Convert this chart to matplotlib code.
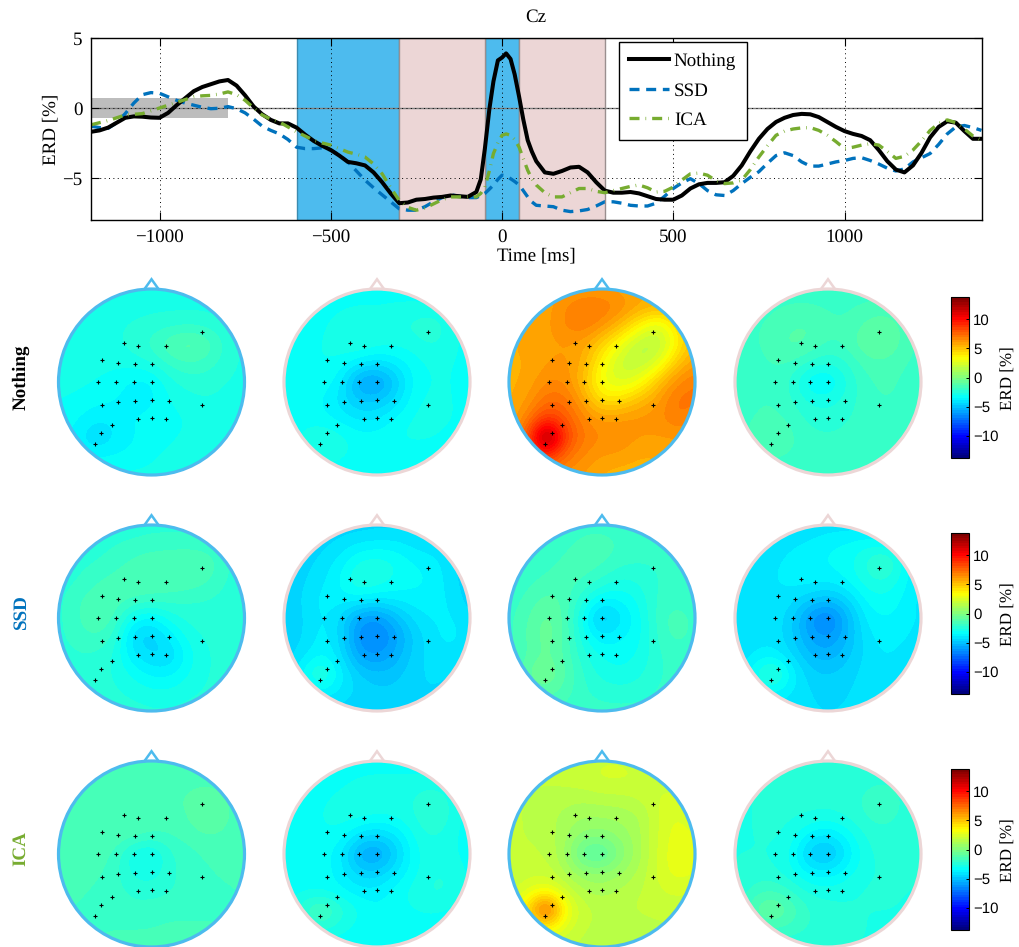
import numpy as np
import matplotlib
matplotlib.use('Agg')
import matplotlib.pyplot as plt
from matplotlib.patches import Circle
from matplotlib.cm import ScalarMappable
from matplotlib.colors import Normalize, LinearSegmentedColormap

plt.rcParams['font.family'] = ['Liberation Serif', 'DejaVu Serif']
plt.rcParams['text.hinting'] = 'no_hinting'
plt.rcParams['text.hinting_factor'] = 1

W, H = 1019, 947

time_ms = [-1200, -1175, -1150, -1125, -1100, -1075, -1050, -1025, -1000, -975, -950, -925, -900, -875, -850,
           -825, -800, -775, -750, -725, -700, -675, -650, -625, -600, -575, -550, -525, -500, -475, -450,
           -425, -400, -375, -350, -325, -300, -275, -250, -225, -200, -175, -150, -125, -100, -75, -62, -50,
           -37, -25, -12, 0, 12, 25, 37, 50, 62, 75, 87, 100, 125, 150, 175, 200, 225, 250, 275, 300, 325,
           350, 375, 400, 425, 450, 475, 500, 525, 550, 575, 600, 625, 650, 675, 700, 725, 750, 775, 800,
           825, 850, 875, 900, 925, 950, 975, 1000, 1025, 1050, 1075, 1100, 1125, 1150, 1175, 1200, 1225,
           1250, 1275, 1300, 1325, 1350, 1375, 1400]
erd_nothing = [-1.7, -1.6, -1.4, -1.05, -0.7, -0.6, -0.62, -0.68, -0.7, -0.35, 0.2, 0.7, 1.2, 1.5, 1.7,
               1.9, 2.0, 1.6, 0.9, 0.1, -0.45, -0.85, -1.1, -1.1, -1.4, -1.9, -2.35, -2.7, -3.0, -3.4, -3.85,
               -3.95, -4.1, -4.6, -5.3, -6.1, -6.8, -6.75, -6.55, -6.5, -6.4, -6.35, -6.25, -6.3, -6.35, -6.0, -5.1, -2.9,
               -0.1, 1.9, 3.4, 3.6, 3.9, 3.5, 2.4, 0.8, -0.8, -2.3, -3.1, -3.8, -4.6, -4.7, -4.5, -4.25, -4.2, -4.6, -5.3, -5.9, -6.05,
               -6.05, -6.0, -6.1, -6.3, -6.5, -6.55, -6.55, -6.25, -5.75, -5.45, -5.35, -5.35, -5.3, -4.85, -4.1, -3.1, -2.2, -1.5, -1.0,
               -0.7, -0.5, -0.42, -0.45, -0.65, -1.0, -1.35, -1.65, -1.85, -2.0, -2.3, -3.0, -3.8, -4.4, -4.6, -4.1, -3.2,
               -2.1, -1.35, -0.95, -1.05, -1.65, -2.2, -2.2]
erd_ssd = [-1.3, -1.4, -1.45, -1.05, -0.4, 0.35, 0.95, 1.1, 1.05, 0.8, 0.55, 0.35, 0.2, 0.05, -0.05,
           -0.02, 0.1, -0.05, -0.35, -0.8, -1.3, -1.6, -1.85, -2.25, -2.8, -2.9, -2.9, -2.85, -3.0, -3.35, -3.85,
           -4.5, -5.15, -5.7, -6.2, -6.7, -7.2, -7.3, -7.3, -7.05, -6.7, -6.4, -6.2, -6.3, -6.4, -6.4, -6.25, -6.1,
           -5.8, -5.5, -5.1, -4.8, -4.85, -5.05, -5.25, -5.5, -5.9, -6.35, -6.7, -6.95, -7.0, -7.05, -7.3, -7.4, -7.35, -7.25, -7.0, -6.7, -6.7,
           -6.8, -6.95, -7.0, -7.0, -6.8, -6.3, -5.75, -5.35, -5.05, -5.4, -5.9, -6.2, -6.25, -5.9, -5.4, -4.95, -4.55, -3.95, -3.4,
           -3.2, -3.4, -3.85, -4.15, -4.15, -4.0, -3.85, -3.75, -3.6, -3.55, -3.75, -4.0, -4.3, -4.5, -4.35, -3.85, -3.55,
           -3.25, -2.6, -1.85, -1.35, -1.25, -1.4, -1.6]
erd_ica = [-1.2, -1.05, -0.9, -0.7, -0.5, -0.45, -0.4, -0.2, 0.0, 0.2, 0.4, 0.6, 0.8, 0.87, 0.9,
           1.0, 1.15, 0.95, 0.55, 0.0, -0.5, -0.8, -1.0, -1.35, -1.7, -2.0, -2.3, -2.5, -2.65, -2.9, -3.15,
           -3.3, -3.5, -4.0, -4.7, -5.7, -6.6, -7.1, -7.3, -7.15, -6.85, -6.55, -6.35, -6.35, -6.35, -6.35, -6.1, -5.65,
           -4.5, -3.25, -2.5, -1.95, -1.85, -1.95, -2.25, -2.8, -3.6, -4.45, -5.05, -5.5, -6.05, -6.35, -6.35, -6.05, -5.75, -5.75, -5.95, -6.05, -5.9,
           -5.75, -5.6, -5.5, -5.7, -6.0, -5.95, -5.65, -5.15, -4.7, -4.65, -4.8, -5.2, -5.4, -5.35, -5.15, -4.4, -3.5, -2.7, -1.95,
           -1.65, -1.5, -1.42, -1.4, -1.6, -1.95, -2.4, -2.9, -2.8, -2.65, -2.55, -2.65, -3.1, -3.6, -3.45, -3.0, -2.35,
           -1.6, -1.1, -0.85, -1.05, -1.5, -2.0, -2.3]

# time windows shaded in the top plot
windows_blue = [(-600, -300), (-50, 50)]
windows_pink = [(-300, -50), (50, 300)]
x_ticks = [-1000, -500, 0, 500, 1000]
y_ticks = [-5, 0, 5]
cbar_ticks = [-10, -5, 0, 5, 10]
row_names = ['Nothing', 'SSD', 'ICA']

electrode_x = [.545, -.294, -.143, .154, -.534, -.358, -.176, .004, -.573, -.380, -.190, .004,
               -.534, -.358, -.176, .004, .186, .545, -.143, .004, .154, -.427, -.538, -.609]
electrode_y = [.541, .416, .391, .391, .240, .208, .194, .190, -.004, -.004, -.004, -.004,
               -.244, -.215, -.201, -.194, -.201, -.244, -.394, -.387, -.394, -.466, -.545, -.663]

# ERD on an 11x11 lattice, top row first
map_nothing_1 = [
    [-2.8, -2.8, -2.8, -2.8, -2.8, -2.8, -2.8, -2.8, -2.8, -2.8, -2.8],
    [-2.8, -2.8, -2.8, -2.8, -2.8, -2.7, -2.7, -2.7, -2.7, -2.8, -2.8],
    [-2.8, -2.8, -2.8, -2.7, -2.5, -2.4, -2.3, -2.2, -2.3, -2.6, -2.8],
    [-2.9, -2.9, -2.8, -2.7, -2.4, -2.0, -1.2, -0.8, -1.3, -2.3, -2.7],
    [-2.9, -2.9, -2.9, -2.9, -2.8, -2.6, -2.0, -1.7, -1.9, -2.4, -2.7],
    [-2.9, -2.9, -3.0, -3.2, -3.6, -3.6, -2.7, -2.4, -2.4, -2.6, -2.7],
    [-3.0, -3.1, -3.3, -3.4, -3.7, -3.6, -3.0, -2.7, -2.6, -2.7, -2.8],
    [-3.1, -3.4, -3.8, -3.8, -3.4, -3.3, -3.2, -3.0, -2.8, -2.8, -2.8],
    [-3.2, -3.7, -4.5, -3.9, -3.5, -3.2, -3.1, -2.9, -2.8, -2.8, -2.8],
    [-3.1, -3.3, -3.5, -3.4, -3.3, -3.1, -2.9, -2.8, -2.8, -2.8, -2.8],
    [-2.9, -2.9, -2.9, -2.9, -2.9, -2.9, -2.8, -2.8, -2.8, -2.8, -2.8]]
map_nothing_2 = [
    [-3.3, -3.3, -3.3, -3.3, -3.3, -3.3, -3.3, -3.3, -3.3, -3.3, -3.3],
    [-3.3, -3.3, -3.2, -3.1, -3.0, -3.0, -2.9, -2.9, -3.0, -3.2, -3.3],
    [-3.3, -3.3, -3.1, -2.8, -2.5, -2.7, -2.7, -2.4, -2.1, -2.9, -3.3],
    [-3.3, -3.2, -3.0, -2.8, -2.5, -2.8, -2.9, -2.8, -2.5, -2.9, -3.2],
    [-3.3, -3.2, -3.0, -3.1, -3.7, -4.1, -3.7, -3.2, -2.9, -3.0, -3.2],
    [-3.3, -3.3, -3.1, -3.6, -5.9, -6.2, -4.8, -3.2, -3.0, -3.0, -3.2],
    [-3.3, -3.3, -3.4, -4.1, -4.8, -4.9, -4.2, -3.1, -2.9, -3.0, -3.2],
    [-3.3, -3.2, -3.3, -3.6, -4.0, -3.9, -3.3, -2.9, -2.8, -3.0, -3.2],
    [-3.3, -2.9, -2.5, -2.8, -3.2, -3.2, -3.0, -2.9, -3.0, -3.2, -3.3],
    [-3.3, -3.0, -2.8, -2.9, -3.2, -3.3, -3.3, -3.3, -3.3, -3.3, -3.3],
    [-3.3, -3.3, -3.3, -3.3, -3.3, -3.3, -3.3, -3.3, -3.3, -3.3, -3.3]]
map_nothing_3 = [
    [5.5, 5.6, 5.8, 6.0, 6.0, 6.0, 5.8, 5.6, 5.5, 5.5, 5.5],
    [5.5, 5.5, 5.8, 6.5, 7.0, 7.0, 6.5, 5.8, 5.5, 5.5, 5.5],
    [5.5, 5.6, 5.9, 6.6, 7.0, 6.3, 5.2, 3.5, 2.2, 4.2, 5.5],
    [5.5, 5.8, 5.9, 6.0, 5.8, 4.5, 2.9, 1.4, 1.3, 3.5, 5.4],
    [5.5, 5.6, 6.0, 6.2, 5.6, 3.4, 1.8, 1.5, 2.5, 5.0, 6.0],
    [5.5, 5.7, 6.5, 6.5, 5.0, 2.8, 2.3, 3.0, 5.0, 6.5, 7.0],
    [5.5, 6.0, 7.3, 7.2, 5.8, 4.0, 4.2, 5.2, 6.0, 7.2, 7.0],
    [5.5, 6.8, 8.8, 7.8, 6.6, 6.0, 6.2, 6.3, 6.3, 7.0, 6.5],
    [6.0, 8.0, 14.5, 8.6, 6.9, 6.5, 6.4, 6.0, 6.0, 6.0, 6.0],
    [6.0, 7.5, 9.0, 7.2, 6.4, 6.0, 6.0, 5.6, 5.6, 5.8, 5.8],
    [6.0, 6.5, 6.5, 6.2, 6.0, 5.5, 5.3, 5.3, 5.5, 5.8, 6.0]]
map_nothing_4 = [
    [-1.9, -1.9, -1.9, -1.9, -1.9, -1.9, -1.9, -1.9, -1.9, -1.9, -1.9],
    [-1.9, -1.9, -1.8, -1.7, -1.7, -1.8, -1.8, -1.7, -1.6, -1.8, -1.9],
    [-1.9, -1.8, -1.6, -1.3, -1.2, -1.6, -1.7, -1.1, -0.8, -1.4, -1.9],
    [-1.9, -1.8, -1.5, -1.1, -1.3, -1.8, -1.6, -0.8, -0.7, -1.4, -1.9],
    [-2.0, -1.9, -1.7, -1.7, -2.2, -2.6, -2.2, -1.5, -1.4, -1.7, -1.9],
    [-2.0, -1.9, -1.8, -2.2, -3.6, -3.7, -2.6, -1.8, -1.6, -1.8, -1.9],
    [-2.0, -1.8, -1.7, -2.1, -2.7, -2.8, -2.4, -1.9, -1.7, -1.8, -1.9],
    [-1.9, -1.7, -1.6, -1.8, -2.3, -2.4, -2.2, -1.9, -1.8, -1.9, -1.9],
    [-1.9, -1.6, -1.2, -1.6, -2.0, -2.1, -2.0, -1.9, -1.9, -1.9, -1.9],
    [-1.9, -1.8, -1.7, -1.8, -1.9, -1.9, -1.9, -1.9, -1.9, -1.9, -1.9],
    [-1.9, -1.9, -1.9, -1.9, -1.9, -1.9, -1.9, -1.9, -1.9, -1.9, -1.9]]
map_ssd_1 = [
    [-2.4, -2.4, -2.4, -2.4, -2.4, -2.3, -2.3, -2.3, -2.4, -2.4, -2.4],
    [-2.4, -2.4, -2.3, -2.2, -2.1, -2.0, -2.0, -2.0, -2.1, -2.3, -2.4],
    [-2.4, -2.3, -2.2, -2.0, -1.6, -1.4, -1.3, -1.2, -1.3, -2.1, -2.4],
    [-2.4, -2.2, -1.8, -1.5, -1.3, -1.3, -1.3, -1.3, -1.6, -2.2, -2.4],
    [-2.3, -1.8, -1.4, -1.4, -1.6, -1.8, -1.9, -2.1, -2.2, -2.3, -2.4],
    [-2.3, -1.8, -1.2, -1.6, -3.2, -3.6, -2.8, -2.4, -2.3, -2.3, -2.4],
    [-2.3, -1.9, -1.7, -2.1, -4.4, -4.7, -3.7, -2.8, -2.5, -2.4, -2.4],
    [-2.4, -2.2, -2.2, -2.6, -3.9, -4.4, -4.5, -3.2, -2.6, -2.4, -2.4],
    [-2.4, -2.4, -2.4, -2.6, -3.1, -3.6, -3.6, -3.0, -2.6, -2.4, -2.4],
    [-2.4, -2.4, -2.4, -2.5, -2.7, -2.9, -2.9, -2.7, -2.5, -2.4, -2.4],
    [-2.4, -2.4, -2.4, -2.4, -2.4, -2.5, -2.5, -2.4, -2.4, -2.4, -2.4]]
map_ssd_2 = [
    [-4.6, -4.6, -4.6, -4.6, -4.6, -4.5, -4.5, -4.5, -4.6, -4.6, -4.6],
    [-4.6, -4.6, -4.5, -4.2, -3.9, -3.8, -3.8, -4.1, -4.3, -4.5, -4.6],
    [-4.6, -4.5, -4.2, -3.7, -2.9, -2.7, -3.0, -3.5, -3.6, -4.3, -4.6],
    [-4.6, -4.4, -4.0, -3.4, -2.4, -2.6, -3.1, -3.3, -3.5, -4.2, -4.6],
    [-4.6, -4.3, -3.7, -3.6, -3.5, -3.8, -3.7, -3.6, -3.6, -4.0, -4.6],
    [-4.6, -4.4, -3.7, -4.3, -5.9, -6.2, -5.1, -4.1, -3.8, -3.8, -4.3],
    [-4.6, -4.4, -3.6, -4.3, -6.4, -6.8, -5.9, -4.6, -4.0, -3.6, -4.2],
    [-4.6, -4.1, -3.4, -4.1, -5.9, -6.2, -5.5, -4.5, -4.1, -4.0, -4.4],
    [-4.6, -3.2, -2.0, -3.6, -4.7, -5.1, -4.9, -4.4, -4.2, -4.3, -4.6],
    [-4.6, -3.9, -3.5, -4.0, -4.4, -4.6, -4.6, -4.4, -4.3, -4.5, -4.6],
    [-4.6, -4.6, -4.5, -4.5, -4.6, -4.6, -4.6, -4.6, -4.6, -4.6, -4.6]]
map_ssd_3 = [
    [-2.1, -2.1, -2.1, -2.1, -2.0, -2.0, -2.0, -2.1, -2.1, -2.1, -2.1],
    [-2.1, -2.1, -2.0, -1.9, -1.5, -1.4, -1.8, -2.0, -2.1, -2.1, -2.1],
    [-2.0, -2.0, -1.9, -1.6, -1.4, -1.6, -2.0, -2.1, -2.1, -2.1, -2.1],
    [-2.0, -1.9, -1.6, -1.5, -1.7, -2.2, -2.7, -2.5, -2.1, -2.1, -2.1],
    [-2.0, -1.6, -1.1, -1.4, -2.5, -3.5, -3.4, -2.9, -2.0, -1.9, -2.0],
    [-1.9, -1.3, -0.6, -1.3, -3.3, -5.2, -4.0, -3.2, -1.9, -1.4, -1.9],
    [-1.9, -1.2, -0.5, -1.3, -3.0, -3.9, -3.5, -3.2, -2.0, -1.5, -1.9],
    [-2.0, -1.3, -0.7, -1.4, -2.5, -3.1, -3.2, -3.0, -2.2, -1.9, -2.0],
    [-2.0, -0.7, -0.2, -1.2, -2.2, -2.8, -3.0, -2.7, -2.2, -2.0, -2.0],
    [-2.0, -1.4, -1.0, -1.5, -2.1, -2.3, -2.4, -2.3, -2.1, -2.0, -2.0],
    [-2.0, -2.0, -1.9, -1.9, -2.0, -2.0, -2.0, -2.0, -2.0, -2.0, -2.0]]
map_ssd_4 = [
    [-4.3, -4.3, -4.3, -4.3, -4.3, -4.2, -4.2, -4.2, -4.2, -4.2, -4.3],
    [-4.3, -4.3, -4.2, -4.0, -3.8, -3.5, -3.4, -3.2, -3.4, -3.9, -4.3],
    [-4.3, -4.2, -4.0, -3.7, -3.5, -3.4, -3.2, -2.5, -1.6, -3.0, -4.2],
    [-4.3, -4.1, -3.9, -3.7, -3.6, -3.7, -3.4, -2.7, -2.5, -3.2, -4.1],
    [-4.3, -4.1, -4.0, -4.1, -4.6, -5.0, -4.4, -3.3, -3.1, -3.5, -4.1],
    [-4.3, -4.1, -4.0, -4.5, -6.2, -7.0, -5.4, -3.7, -3.4, -3.6, -4.0],
    [-4.3, -4.1, -4.0, -4.6, -5.8, -6.2, -5.3, -4.0, -3.7, -3.8, -4.1],
    [-4.3, -3.9, -3.7, -4.3, -5.2, -5.5, -4.9, -4.2, -3.8, -4.0, -4.2],
    [-4.3, -3.0, -1.6, -3.5, -4.6, -4.8, -4.5, -4.1, -4.0, -4.2, -4.3],
    [-4.3, -3.8, -3.4, -3.9, -4.3, -4.4, -4.3, -4.2, -4.2, -4.3, -4.3],
    [-4.3, -4.3, -4.2, -4.2, -4.3, -4.3, -4.3, -4.3, -4.3, -4.3, -4.3]]
map_ica_1 = [
    [-1.7, -1.7, -1.7, -1.7, -1.7, -1.7, -1.7, -1.7, -1.7, -1.7, -1.7],
    [-1.7, -1.7, -1.6, -1.6, -1.6, -1.6, -1.6, -1.5, -1.5, -1.6, -1.7],
    [-1.6, -1.6, -1.5, -1.4, -1.4, -1.4, -1.4, -1.2, -0.9, -1.3, -1.6],
    [-1.6, -1.5, -1.4, -1.3, -1.3, -1.4, -1.5, -1.3, -0.6, -1.2, -1.6],
    [-1.6, -1.5, -1.4, -1.3, -1.4, -1.7, -1.7, -1.5, -1.3, -1.4, -1.6],
    [-1.5, -1.5, -1.5, -1.7, -3.0, -3.4, -2.2, -1.9, -1.6, -1.5, -1.6],
    [-1.5, -1.5, -1.6, -1.9, -2.8, -3.0, -2.2, -2.0, -1.8, -1.6, -1.6],
    [-1.5, -1.6, -1.8, -2.0, -2.2, -2.3, -2.2, -2.0, -1.9, -1.8, -1.7],
    [-1.6, -1.8, -1.9, -2.0, -2.1, -2.0, -1.9, -1.9, -1.9, -1.8, -1.7],
    [-1.7, -1.8, -1.8, -1.7, -1.7, -1.7, -1.6, -1.6, -1.6, -1.7, -1.7],
    [-1.7, -1.7, -1.7, -1.6, -1.6, -1.6, -1.6, -1.6, -1.7, -1.7, -1.7]]
map_ica_2 = [
    [-3.3, -3.3, -3.3, -3.3, -3.3, -3.3, -3.3, -3.3, -3.3, -3.3, -3.3],
    [-3.3, -3.3, -3.3, -3.2, -3.0, -2.9, -2.9, -2.9, -3.0, -3.2, -3.3],
    [-3.3, -3.3, -3.1, -2.9, -2.6, -2.6, -2.7, -2.6, -2.1, -2.7, -3.3],
    [-3.3, -3.2, -3.0, -2.8, -2.8, -3.0, -2.9, -2.6, -1.9, -2.7, -3.3],
    [-3.3, -3.2, -3.1, -3.1, -4.0, -4.4, -3.9, -2.9, -2.5, -2.9, -3.3],
    [-3.3, -3.2, -3.2, -3.7, -5.7, -6.1, -4.7, -3.1, -2.7, -2.9, -3.3],
    [-3.3, -3.2, -3.2, -3.6, -4.6, -4.7, -3.9, -3.1, -2.6, -2.6, -3.2],
    [-3.3, -3.2, -3.2, -3.4, -3.7, -3.7, -3.2, -2.8, -2.4, -2.6, -3.2],
    [-3.2, -2.1, -1.1, -2.3, -3.0, -3.4, -3.2, -3.0, -2.9, -3.1, -3.3],
    [-3.3, -2.9, -2.4, -2.8, -3.2, -3.3, -3.3, -3.3, -3.3, -3.3, -3.3],
    [-3.4, -3.4, -3.4, -3.4, -3.4, -3.4, -3.4, -3.4, -3.4, -3.4, -3.4]]
map_ica_3 = [
    [1.8, 1.8, 1.8, 1.9, 2.0, 2.1, 2.1, 2.0, 1.9, 1.8, 1.8],
    [1.8, 1.8, 1.8, 1.9, 2.1, 2.3, 2.3, 2.2, 2.0, 1.9, 1.8],
    [1.8, 1.7, 1.6, 1.5, 1.4, 1.6, 1.6, 1.8, 2.2, 2.3, 1.9],
    [1.8, 1.7, 1.5, 1.1, 0.9, 0.9, 1.0, 1.2, 2.2, 2.7, 2.2],
    [1.8, 1.7, 1.6, 1.0, 0.3, 0.2, 0.6, 1.2, 2.2, 2.9, 2.5],
    [1.8, 1.8, 1.7, 0.9, -1.2, -1.4, 0.1, 1.1, 2.3, 3.0, 2.7],
    [1.9, 2.0, 2.0, 1.2, 0.5, 0.4, 0.8, 1.4, 2.3, 2.9, 2.6],
    [1.9, 2.4, 3.0, 2.1, 1.3, 1.1, 1.4, 1.7, 2.1, 2.3, 2.1],
    [2.0, 4.6, 9.2, 3.2, 1.9, 1.6, 1.7, 1.8, 1.9, 1.9, 1.9],
    [1.9, 2.6, 3.6, 2.4, 1.7, 1.6, 1.5, 1.5, 1.6, 1.7, 1.8],
    [1.8, 1.8, 1.8, 1.7, 1.6, 1.5, 1.5, 1.5, 1.6, 1.7, 1.8]]
map_ica_4 = [
    [-2.6, -2.6, -2.6, -2.6, -2.6, -2.6, -2.6, -2.6, -2.6, -2.6, -2.6],
    [-2.6, -2.6, -2.6, -2.5, -2.5, -2.4, -2.4, -2.4, -2.4, -2.5, -2.6],
    [-2.6, -2.6, -2.5, -2.4, -2.4, -2.4, -2.3, -2.1, -1.4, -2.3, -2.6],
    [-2.6, -2.6, -2.5, -2.5, -2.6, -2.7, -2.5, -2.1, -1.9, -2.3, -2.6],
    [-2.6, -2.6, -2.5, -2.7, -3.6, -4.0, -3.3, -2.5, -2.3, -2.5, -2.6],
    [-2.6, -2.6, -2.6, -3.0, -4.9, -5.3, -3.9, -2.7, -2.4, -2.5, -2.6],
    [-2.6, -2.4, -2.5, -2.9, -3.6, -3.8, -3.2, -2.7, -2.5, -2.5, -2.6],
    [-2.6, -2.0, -1.7, -2.2, -2.7, -2.8, -2.7, -2.5, -2.5, -2.6, -2.6],
    [-2.6, -1.1, -0.4, -1.3, -2.2, -2.4, -2.5, -2.6, -2.6, -2.6, -2.6],
    [-2.6, -2.0, -1.7, -1.9, -2.2, -2.4, -2.5, -2.6, -2.6, -2.6, -2.6],
    [-2.6, -2.6, -2.5, -2.5, -2.5, -2.5, -2.6, -2.6, -2.6, -2.6, -2.6]]

maps = [[map_nothing_1, map_nothing_2, map_nothing_3, map_nothing_4],
        [map_ssd_1, map_ssd_2, map_ssd_3, map_ssd_4],
        [map_ica_1, map_ica_2, map_ica_3, map_ica_4]]

blue = '#4DBBEE'
pink = '#ECD6D6'
ssd_col = '#0072BD'
ica_col = '#77AC30'
vlim = 13.8
# matlab's jet, matplotlib's own one is greener around the middle
cmap = LinearSegmentedColormap.from_list(
    'matlab_jet', [(0, (0, 0, .5)), (.125, (0, 0, 1)), (.375, (0, 1, 1)), (.625, (1, 1, 0)),
                   (.875, (1, 0, 0)), (1, (.5, 0, 0))], N=64)
norm = Normalize(-vlim, vlim)


def px_axes(x0, y0, x1, y1):
    # pixel box, y measured from the top of the image
    return fig.add_axes([x0 / W, 1 - y1 / H, (x1 - x0) / W, (y1 - y0) / H])


fig = plt.figure(figsize=(W / 100, H / 100), dpi=100)

#top plot
ax = px_axes(91, 38, 981.5, 220)
for a, b in windows_blue:
    ax.axvspan(a, b, facecolor=blue, edgecolor='#3b8bb0', lw=1, zorder=1)
for a, b in windows_pink:
    ax.axvspan(a, b, facecolor=pink, edgecolor='#9a8f8f', lw=1, zorder=1)
ax.fill_between([-1200, -800], -0.7, 0.7, color='#bdbdbd', lw=0, zorder=1)
ax.axhline(0, color='#808080', lw=1, zorder=1.5)
ax.grid(True, color='k', ls=(0, (1, 3.5)), lw=0.7, zorder=2)
ax.set_axisbelow(False)
ax.plot(time_ms, erd_ssd, color=ssd_col, lw=2.4, ls=(0, (3.0, 2.0)), label='SSD', zorder=3)
ax.plot(time_ms, erd_nothing, color='k', lw=2.9, label='Nothing', zorder=3.5)
ax.plot(time_ms, erd_ica, color=ica_col, lw=2.4, ls=(0, (3.0, 1.8, 0.2, 1.8)), label='ICA', zorder=4)
ax.set_xlim(-1200, 1400)
ax.set_ylim(-8, 5)
ax.set_xticks(x_ticks)
ax.set_yticks(y_ticks)
ax.tick_params(direction='in', length=6, width=0.8, top=True, right=True, labelsize=14, pad=6)
for s in ax.spines.values():
    s.set_linewidth(1)
    s.set_zorder(6)
ax.set_xlabel('Time [ms]', fontsize=14, labelpad=1)
ax.set_ylabel('ERD [%]', fontsize=14, labelpad=2)
ax.set_title('Cz', fontsize=14, pad=12)
handles, labels = ax.get_legend_handles_labels()
order = [labels.index(n) for n in row_names]
leg = ax.legend([handles[i] for i in order], [labels[i] for i in order],
                loc='upper left', bbox_to_anchor=(618.5 / W, 1 - 42 / H), bbox_transform=fig.transFigure,
                fontsize=14, fancybox=False, framealpha=1, edgecolor='k', handlelength=2.05,
                handletextpad=0.25, labelspacing=0.6, borderpad=0.55, borderaxespad=0)
leg.get_frame().set_linewidth(1)
leg.set_zorder(7)

#scalp maps
head_x = [151.5, 377, 602, 828]
head_y = [382, 618, 854]
head_r = 93
span = 1.2
ring_cols = [blue, pink, blue, pink]
for r, cy in enumerate(head_y):
    for c, cx in enumerate(head_x):
        hax = px_axes(cx - head_r * span, cy - head_r * span, cx + head_r * span, cy + head_r * span)
        hax.set_axis_off()
        im = hax.imshow(maps[r][c], cmap=cmap, norm=norm, extent=(-1.1, 1.1, -1.1, 1.1),
                        interpolation='bicubic', interpolation_stage='data', zorder=1)
        im.set_clip_path(Circle((0, 0), 1, transform=hax.transData))
        hax.add_patch(Circle((0, 0), 1, fill=False, ec=ring_cols[c], lw=2.3, zorder=3))
        hax.plot([-0.075, 0, 0.075], [1.0, 1.105, 1.0], color=ring_cols[c], lw=1.8, zorder=2,
                 solid_joinstyle='miter', clip_on=False)
        hax.plot(electrode_x, electrode_y, '+', color='k', ms=2.4, mew=0.8, zorder=4)
        hax.set_xlim(-span, span)
        hax.set_ylim(-span, span)

    # colour bar for the row
    cax = px_axes(951, cy - 85, 969, cy + 76)
    cb = fig.colorbar(ScalarMappable(norm=norm, cmap=cmap), cax=cax, ticks=cbar_ticks)
    cb.outline.set_linewidth(0.8)
    cb.ax.tick_params(direction='in', length=2.5, width=0.7, labelsize=10.5, pad=3)
    for lab in cb.ax.get_yticklabels():
        lab.set_family('Liberation Sans')
    fig.text(1009 / W, 1 - (cy - 4) / H, 'ERD [%]', rotation=90, ha='center', va='center', fontsize=12)

row_cols = ['k', ssd_col, ica_col]
row_label_y = [377, 612, 849]
for name, col, ly in zip(row_names, row_cols, row_label_y):
    fig.text(21 / W, 1 - ly / H, name, rotation=90, ha='center', va='center', color=col,
             fontsize=14, fontweight='bold')

fig.savefig('out.png', dpi=100)
